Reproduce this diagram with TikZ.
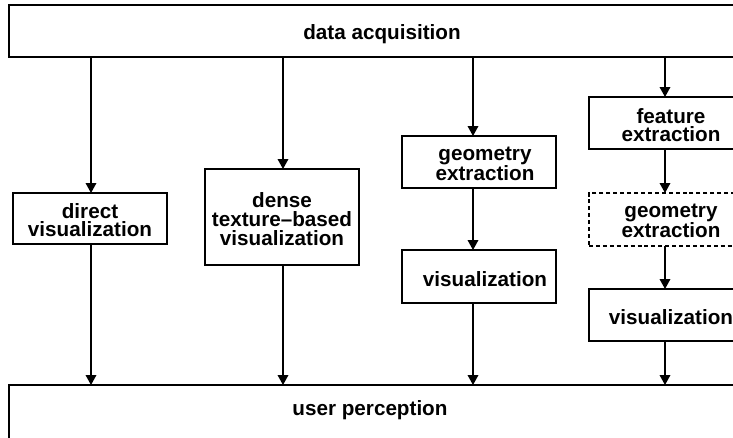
\documentclass[tikz,border=0pt]{standalone}
\usepackage{fontspec}
\setmainfont{Liberation Sans}
\usetikzlibrary{arrows.meta}
\tikzset{
  box/.style={draw=black, line width=1pt, minimum width=115.5pt, inner sep=0pt, outer sep=0pt},
  dbox/.style={box, dashed, dash pattern=on 3pt off 2.2pt},
  lbl/.style={font=\fontsize{15.5pt}{14pt}\selectfont\bfseries, align=center, inner sep=0pt},
  arr/.style={line width=1pt, -{Triangle[length=7.5pt,width=8pt]}}
}
\begin{document}
\begin{tikzpicture}[x=0.75pt,y=-0.75pt]
\useasboundingbox (0,0) rectangle (733,437);
\clip (0,0) rectangle (733,437);
% column x positions
\coordinate (c1) at (91,0);
\coordinate (c2) at (283,0);
\coordinate (c3) at (473,0);
\coordinate (c4) at (665,0);
% boxes
\node[box, minimum width=559.5pt, minimum height=39pt] (top) at (382,31) {};
\node[lbl] (toptxt) at (382,34) {data acquisition};
\node[box, minimum width=552pt, minimum height=48.75pt] (bot) at (377,417.5) {};
\node[lbl] (bottxt) at (370,410) {user perception};
\node[box, minimum height=38.25pt] (direct) at (90,218.5) {};
\node[lbl] (directtxt) at (90,220) {direct\\visualization};
\node[box, minimum height=72pt] (dense) at (282,217) {};
\node[lbl] (densetxt) at (282,219) {dense\\texture{\char"2013}based\\visualization};
\node[box, minimum height=39pt] (geo3) at (479,162) {};
\node[lbl] (geo3txt) at (485,164) {geometry\\extraction};
\node[box, minimum height=39.75pt] (vis3) at (479,276.5) {};
\node[lbl] (vis3txt) at (485,279) {visualization};
\node[box, minimum height=39pt] (feat) at (666,123) {};
\node[lbl] (feattxt) at (671,125) {feature\\extraction};
\node[dbox, minimum height=39.75pt] (geo4) at (666,219.5) {};
\node[lbl] (geo4txt) at (671,221) {geometry\\extraction};
\node[box, minimum height=39pt] (vis4) at (666,315) {};
\node[lbl] (vis4txt) at (671,317.5) {visualization};
% arrows
\draw[arr] (top.south -| c1) -- (direct.north -| c1);
\draw[arr] (direct.south -| c1) -- (bot.north -| c1);
\draw[arr] (top.south -| c2) -- (dense.north -| c2);
\draw[arr] (dense.south -| c2) -- (bot.north -| c2);
\draw[arr] (top.south -| c3) -- (geo3.north -| c3);
\draw[arr] (geo3.south -| c3) -- (vis3.north -| c3);
\draw[arr] (vis3.south -| c3) -- (bot.north -| c3);
\draw[arr] (top.south -| c4) -- (feat.north -| c4);
\draw[arr] (feat.south -| c4) -- (geo4.north -| c4);
\draw[arr] (geo4.south -| c4) -- (vis4.north -| c4);
\draw[arr] (vis4.south -| c4) -- (bot.north -| c4);
\end{tikzpicture}
\end{document}
